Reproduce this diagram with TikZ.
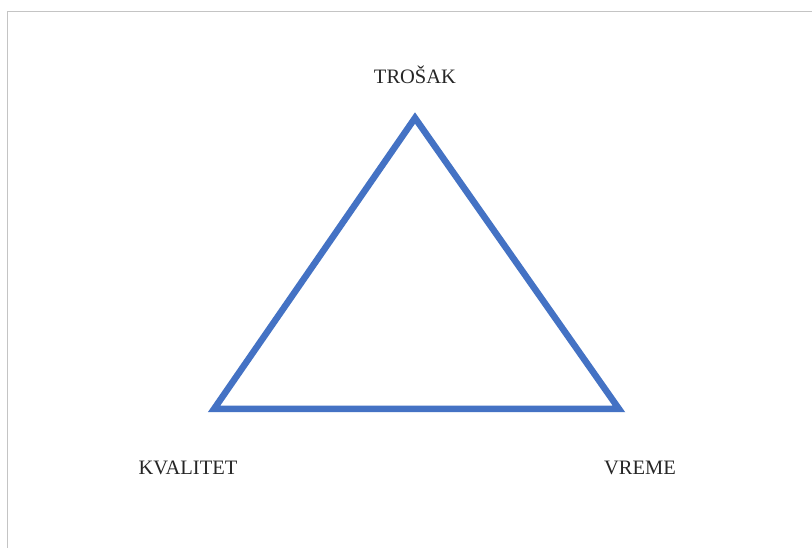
\documentclass[tikz,border=0pt]{standalone}
\usepackage{fontspec}
\setmainfont{Liberation Serif}
\definecolor{triblue}{HTML}{4472C4}
\definecolor{framegray}{HTML}{C4C4C4}
\begin{document}
\begin{tikzpicture}[x=1pt,y=1pt,
  lbl/.style={font=\fontsize{20.5}{24}\selectfont, text=black!85, inner sep=0pt},
  side/.style={draw=triblue, line width=6.5pt, line join=miter}]
\useasboundingbox (0,0) rectangle (812,548);
\fill[white] (0,0) rectangle (812,548);
\coordinate (fb) at (7.5,0);
\coordinate (fc) at (7.5,536.5);
\coordinate (fr) at (812,536.5);
\draw[framegray, line width=1.5pt] (fb) -- (fc) -- (fr);
\coordinate (top) at (415,430);
\coordinate (bl) at (214,139);
\coordinate (br) at (619,139);
\draw[side] (top) -- (bl) -- (br) -- cycle;
\node[lbl] (trosak) at (415,473) {TROŠAK};
\node[lbl] (kval) at (188,80) {KVALITET};
\node[lbl] (vreme) at (640,80) {VREME};
\end{tikzpicture}
\end{document}
